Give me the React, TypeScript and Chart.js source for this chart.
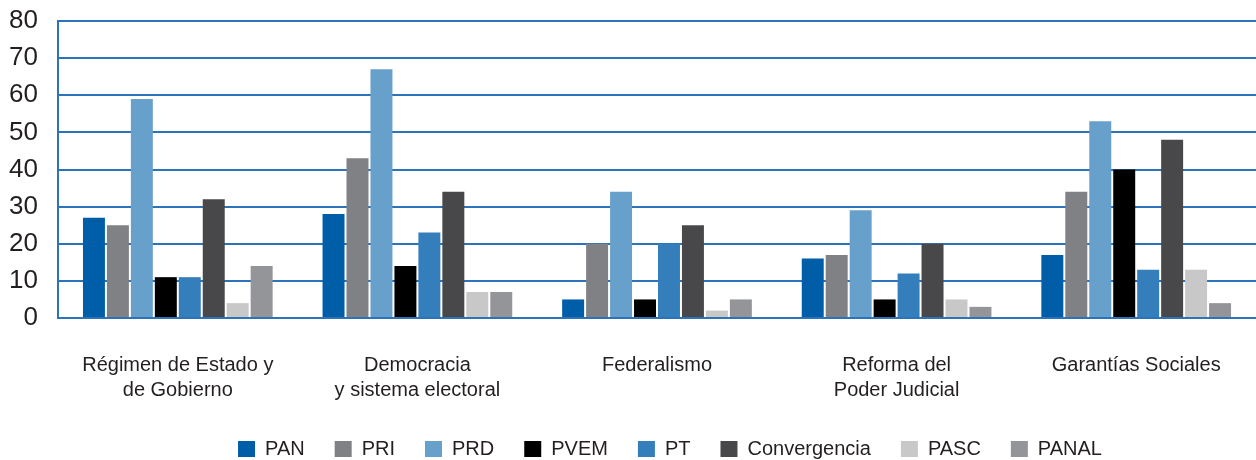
import React, { useEffect, useRef } from "react";
import { Chart, registerables } from "chart.js";

Chart.register(...registerables);

const categories: (string | string[])[] = [
  ["Régimen de Estado y", "de Gobierno"],
  ["Democracia", "y sistema electoral"],
  "Federalismo",
  ["Reforma del", "Poder Judicial"],
  "Garantías Sociales",
];

const seriesNames = ["PAN", "PRI", "PRD", "PVEM", "PT", "Convergencia", "PASC", "PANAL"];
const seriesColors = ["#005EA8", "#808184", "#68A0CC", "#000000", "#337EBB", "#48484A", "#C8C8C9", "#949598"];

const PAN = [27, 28, 5, 16, 17];
const PRI = [25, 43, 20, 17, 34];
const PRD = [59, 67, 34, 29, 53];
const PVEM = [11, 14, 5, 5, 40];
const PT = [11, 23, 20, 12, 13];
const Convergencia = [32, 34, 25, 20, 48];
const PASC = [4, 7, 2, 5, 13];
const PANAL = [14, 7, 5, 3, 4];

const seriesValues = [PAN, PRI, PRD, PVEM, PT, Convergencia, PASC, PANAL];

const yMin = 0;
const yMax = 80;
const yStep = 10;

const FONT = "'Liberation Sans', Arial, sans-serif";
const BLUE = "#2D73B9";
const TEXT = "#231F20";

const legendShift = {
  id: "legendShift",
  afterLayout(chart: any) {
    if (chart.legend) {
      chart.legend.left += 42;
      chart.legend.right += 42;
    }
  },
};

export default function App() {
  const ref = useRef<HTMLCanvasElement | null>(null);

  useEffect(() => {
    if (!ref.current) return;
    const chart = new Chart(ref.current, {
      type: "bar",
      data: {
        labels: categories,
        datasets: seriesNames.map((name, i) => ({
          label: name,
          data: seriesValues[i],
          backgroundColor: seriesColors[i],
          borderWidth: 0,
          categoryPercentage: 0.8,
          barPercentage: 0.917,
        })),
      },
      plugins: [legendShift],
      options: {
        responsive: false,
        animation: false,
        layout: { padding: { top: 21, right: 0, left: 0, bottom: -9 } },
        plugins: {
          tooltip: { enabled: false },
          legend: {
            position: "bottom",
            labels: {
              boxWidth: 17,
              boxHeight: 16,
              padding: 30,
              color: TEXT,
              font: { family: FONT, size: 20 },
            },
          },
        },
        scales: {
          x: {
            grid: { display: false },
            border: { display: true, color: BLUE, width: 2 },
            ticks: {
              color: TEXT,
              padding: 27,
              maxRotation: 0,
              autoSkip: false,
              font: { family: FONT, size: 20, lineHeight: 1.25 },
            },
            afterFit: (scale: any) => {
              scale.height = 91;
            },
          },
          y: {
            min: yMin,
            max: yMax,
            ticks: {
              stepSize: yStep,
              padding: 20,
              color: TEXT,
              font: { family: FONT, size: 26 },
            },
            grid: { color: BLUE, lineWidth: 2, drawTicks: false },
            border: { display: true, color: BLUE, width: 2 },
            afterFit: (scale: any) => {
              scale.width = 58;
              scale.paddingTop = 0;
              scale.paddingBottom = 0;
            },
          },
        },
      },
    });
    return () => chart.destroy();
  }, []);

  return (
    <div style={{ position: "absolute", left: 0, top: 0, width: 1256, height: 460 }}>
      <canvas ref={ref} width={1256} height={460} style={{ display: "block" }} />
    </div>
  );
}
